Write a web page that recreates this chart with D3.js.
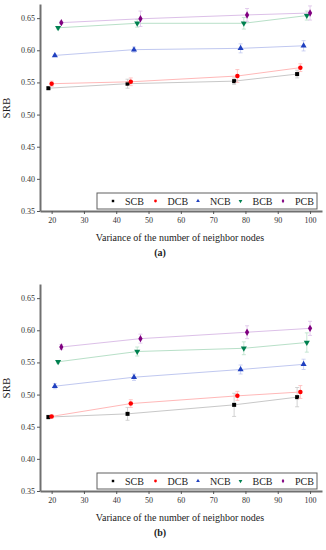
<!DOCTYPE html>
<html><head><meta charset="utf-8">
<script src="https://cdn.jsdelivr.net/npm/d3@7"></script>
<style>body{margin:0;background:#fff}svg{display:block}svg text{font-family:"Liberation Serif","DejaVu Serif",serif !important}</style>
</head><body>
<script>
const seriesNames = ["SCB","DCB","NCB","BCB","PCB"];
const seriesColors = ["#000000","#ff0000","#2040c0","#008050","#800080"];
const lineColors = ["#c8c8c8","#ffb8b8","#c0c8f0","#b8e0c8","#dcc0e8"];
const xTicks = [20,30,40,50,60,70,80,90,100];
const yTicks = [0.35,0.40,0.45,0.50,0.55,0.60,0.65];
// x positions (slightly offset per series)
const xSCB = [19, 43.5, 76.5, 96];
const xDCB = [20, 44.5, 77.5, 97];
const xNCB = [21, 45.5, 78.5, 98];
const xBCB = [22, 46.5, 79.5, 99];
const xPCB = [23, 47.5, 80.5, 100];
// panel (a)
const aSCB = [0.541, 0.548, 0.552, 0.563];
const aDCB = [0.548, 0.551, 0.560, 0.573];
const aNCB = [0.592, 0.601, 0.603, 0.607];
const aBCB = [0.635, 0.642, 0.642, 0.654];
const aPCB = [0.643, 0.649, 0.655, 0.658];
const aErrSCB = [0.002, 0.007, 0.005, 0.006];
const aErrDCB = [0.004, 0.006, 0.010, 0.006];
const aErrNCB = [0.001, 0.004, 0.007, 0.008];
const aErrBCB = [0.002, 0.006, 0.009, 0.007];
const aErrPCB = [0.002, 0.012, 0.010, 0.011];
// panel (b)
const bSCB = [0.465, 0.470, 0.484, 0.496];
const bDCB = [0.466, 0.486, 0.498, 0.504];
const bNCB = [0.513, 0.527, 0.539, 0.547];
const bBCB = [0.551, 0.567, 0.572, 0.581];
const bPCB = [0.574, 0.587, 0.597, 0.603];
const bErrSCB = [0.003, 0.010, 0.018, 0.015];
const bErrDCB = [0.002, 0.006, 0.007, 0.010];
const bErrNCB = [0.004, 0.005, 0.007, 0.008];
const bErrBCB = [0.002, 0.007, 0.010, 0.015];
const bErrPCB = [0.004, 0.007, 0.010, 0.011];

const xs = [xSCB, xDCB, xNCB, xBCB, xPCB];
const panels = [
  {label:"(a)", vals:[aSCB,aDCB,aNCB,aBCB,aPCB], errs:[aErrSCB,aErrDCB,aErrNCB,aErrBCB,aErrPCB], dy:0},
  {label:"(b)", vals:[bSCB,bDCB,bNCB,bBCB,bPCB], errs:[bErrSCB,bErrDCB,bErrNCB,bErrBCB,bErrPCB], dy:280}
];
const symbols = [d3.symbolSquare, d3.symbolCircle, d3.symbolTriangle, d3.symbolTriangle, d3.symbolDiamond];
const symRot = [0,0,0,180,0];
const font = '"Liberation Serif","DejaVu Serif",serif';

const svg = d3.select("body").append("svg").attr("width",326).attr("height",550);

const x = d3.scaleLinear().domain([16.4,103.7]).range([40,322]);
const y = d3.scaleLinear().domain([0.35,0.672]).range([211,4]);

panels.forEach(p => {
  const g = svg.append("g").attr("transform",`translate(0,${p.dy})`).style("font-family",font);
  // axes
  const ya = g.append("g").attr("transform","translate(40,0)")
    .call(d3.axisLeft(y).tickValues(yTicks).tickFormat(d3.format(".2f")).tickSize(3).tickSizeOuter(0));
  const xa = g.append("g").attr("transform","translate(0,211)")
    .call(d3.axisBottom(x).tickValues(xTicks).tickSize(3).tickSizeOuter(0));
  [ya,xa].forEach(a=>{
    a.attr("font-family",null);
    a.select(".domain").attr("stroke","#707070").attr("stroke-width",2);
    a.selectAll(".tick line").attr("stroke","#555");
    a.selectAll(".tick text").style("font-family",font).attr("font-size",8).attr("fill","#333");
  });
  ya.selectAll(".tick text").attr("x",-5);
  xa.selectAll(".tick text").attr("y",6);

  // series
  seriesNames.forEach((name,i) => {
    const pts = p.vals[i].map((v,j)=>({x:xs[i][j], y:v, e:p.errs[i][j]}));
    g.append("path").datum(pts)
      .attr("fill","none").attr("stroke",lineColors[i]).attr("stroke-width",1)
      .attr("d", d3.line().x(d=>x(d.x)).y(d=>y(d.y)));
    const eg = g.append("g").attr("stroke",lineColors[i]).attr("stroke-width",0.8);
    pts.forEach(d=>{
      eg.append("line").attr("x1",x(d.x)).attr("x2",x(d.x)).attr("y1",y(d.y-d.e)).attr("y2",y(d.y+d.e));
      eg.append("line").attr("x1",x(d.x)-2).attr("x2",x(d.x)+2).attr("y1",y(d.y-d.e)).attr("y2",y(d.y-d.e));
      eg.append("line").attr("x1",x(d.x)-2).attr("x2",x(d.x)+2).attr("y1",y(d.y+d.e)).attr("y2",y(d.y+d.e));
    });
    g.append("g").selectAll("path").data(pts).join("path")
      .attr("d", d3.symbol().type(symbols[i]).size(16))
      .attr("transform", d=>`translate(${x(d.x)},${y(d.y)}) rotate(${symRot[i]})`)
      .attr("fill", seriesColors[i]);
  });

  // legend
  const lg = g.append("g");
  lg.append("rect").attr("x",97).attr("y",193).attr("width",220).attr("height",16)
    .attr("fill","#fff").attr("stroke","#606060").attr("stroke-width",1);
  const lx = d3.scalePoint().domain(seriesNames).range([113,283]);
  seriesNames.forEach((name,i)=>{
    lg.append("path").attr("d", d3.symbol().type(symbols[i]).size(6))
      .attr("transform",`translate(${lx(name)},201) rotate(${symRot[i]})`).attr("fill",seriesColors[i]);
    lg.append("text").attr("x",lx(name)+12).attr("y",204.5).text(name)
      .style("font-family",font).attr("font-size",10).attr("fill","#222");
  });

  // labels
  g.append("text").attr("transform","translate(10,108) rotate(-90)").attr("text-anchor","middle")
    .style("font-family",font).attr("font-size",11).attr("fill","#222").text("SRB");
  g.append("text").attr("x",180).attr("y",241).attr("text-anchor","middle")
    .style("font-family",font).attr("font-size",10).attr("fill","#222").text("Variance of the number of neighbor nodes");
  g.append("text").attr("x",160).attr("y",256).attr("text-anchor","middle")
    .style("font-family",font).attr("font-size",10).attr("font-weight","bold").attr("fill","#222").text(p.label);
});
</script>
</body></html>
